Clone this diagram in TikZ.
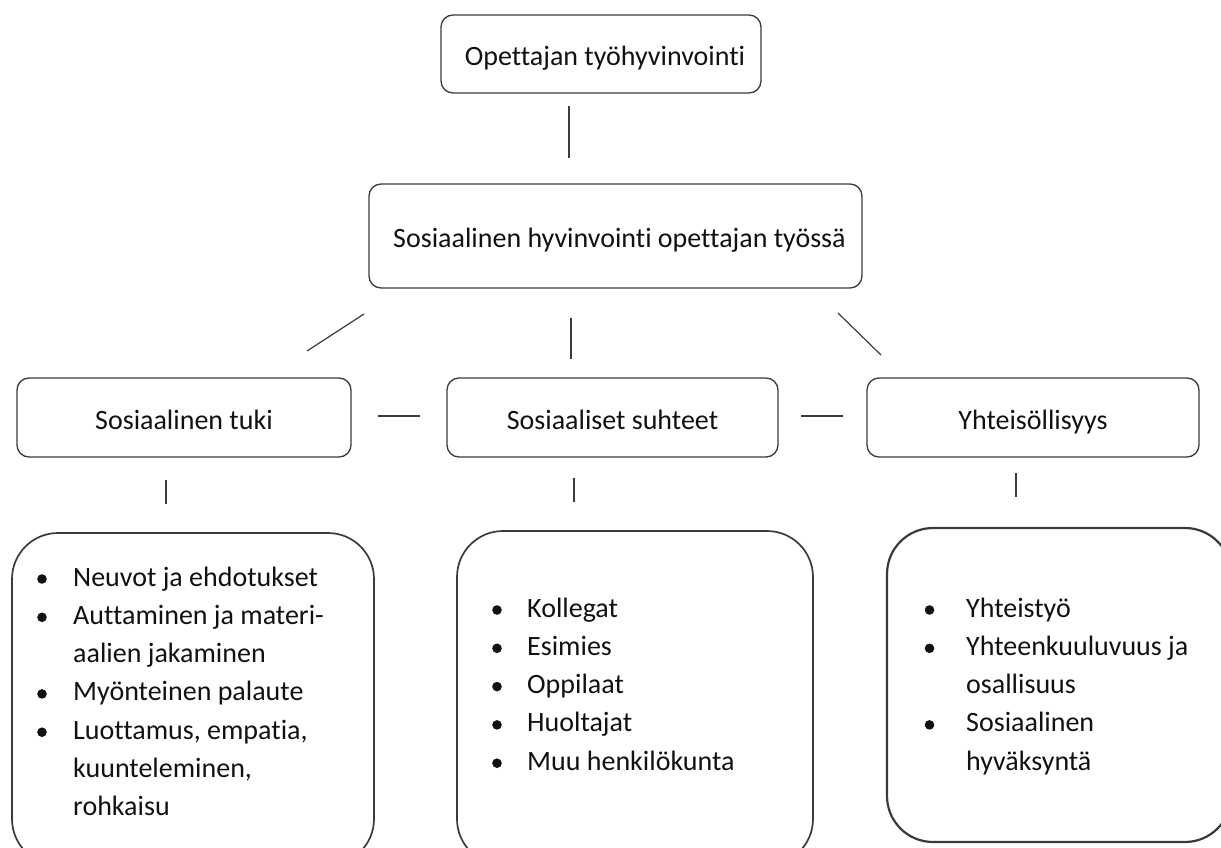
\documentclass[tikz,border=0pt]{standalone}
\usepackage{fontspec}
\setmainfont[Ligatures={NoCommon}]{Carlito}
\definecolor{linec}{HTML}{3A3A3A}
\definecolor{textc}{HTML}{111111}
\newcommand{\mainfnt}{\fontsize{28}{38.3}\selectfont}
\begin{document}
\begin{tikzpicture}[x=1pt,y=-1pt,
  box/.style={draw=linec, line width=1.3pt, rounded corners=12pt, inner sep=0pt,
    text height=25pt, text depth=2pt, font=\mainfnt, text=textc},
  listbox/.style={draw=linec, line width=1.7pt, rounded corners=46pt, inner sep=0pt},
  conn/.style={draw=linec, line width=1.2pt},
  listtext/.style={anchor=base west, inner sep=0pt, font=\mainfnt, text=textc},
  blt/.style={fill=textc}]
\useasboundingbox (0,0) rectangle (1221,848);
\clip (0,0) rectangle (1221,848);

% upper boxes
\node[box, minimum width=320pt, minimum height=78pt] (b0) at (601,54) {\hspace*{8pt}Opettajan työhyvinvointi};
\node[box, minimum width=493pt, minimum height=104pt] (b1) at (615.5,236) {\hspace*{8pt}Sosiaalinen hyvinvointi opettajan työssä};

% row boxes
\node[box, minimum width=334pt, minimum height=79pt] (r1) at (184,417.5) {Sosiaalinen tuki};
\node[box, minimum width=331pt, minimum height=79pt] (r2) at (612.5,417.5) {Sosiaaliset suhteet};
\node[box, minimum width=332pt, minimum height=79pt] (r3) at (1033,417.5) {Yhteisöllisyys};

% bottom boxes
\node[listbox, minimum width=362pt, minimum height=332pt] (l1) at (193,699) {};
\node[listbox, minimum width=356pt, minimum height=334pt] (l2) at (635,698) {};
\node[listbox, line width=2.2pt, minimum width=344pt, minimum height=314pt] (l3) at (1059,685) {};

% list texts
\node[listtext] (t1) at (73,586) {\begin{tabular}[t]{@{}l@{}}Neuvot ja ehdotukset\\ Auttaminen ja materi-\\ aalien jakaminen\\ Myönteinen palaute\\ Luottamus, empatia,\\ kuunteleminen,\\ rohkaisu\end{tabular}};
\node[listtext] (t2) at (527,617) {\begin{tabular}[t]{@{}l@{}}Kollegat\\ Esimies\\ Oppilaat\\ Huoltajat\\ Muu henkilökunta\end{tabular}};
\node[listtext] (t3) at (966,617) {\begin{tabular}[t]{@{}l@{}}Yhteistyö\\ Yhteenkuuluvuus ja\\ osallisuus\\ Sosiaalinen\\ hyväksyntä\end{tabular}};

% bullets
\foreach \y in {579,617.3,693.9,732.2} \fill[blt] (42,\y) circle (4.8pt);
\foreach \y in {610,648.3,686.6,724.9,763.2} \fill[blt] (497,\y) circle (4.8pt);
\foreach \y in {610,648.3,724.9} \fill[blt] (929.5,\y) circle (4.8pt);

% connector end points
\coordinate (c0a) at (569,106);   \coordinate (c0b) at (569,158);
\coordinate (c1a) at (364,314);   \coordinate (c1b) at (307,351);
\coordinate (c2a) at (571,318);   \coordinate (c2b) at (571,359);
\coordinate (c3a) at (838,313);   \coordinate (c3b) at (881,355);
\coordinate (d1a) at (378,416);   \coordinate (d1b) at (420,416);
\coordinate (d2a) at (801,416);   \coordinate (d2b) at (843,416);
\coordinate (v1a) at (166,480);   \coordinate (v1b) at (166,504);
\coordinate (v2a) at (574,478);   \coordinate (v2b) at (574,502);
\coordinate (v3a) at (1016,473);  \coordinate (v3b) at (1016,497);

\draw[conn] (c0a) -- (c0b);
\draw[conn] (c1a) -- (c1b);
\draw[conn] (c2a) -- (c2b);
\draw[conn] (c3a) -- (c3b);
\draw[conn] (d1a) -- (d1b);
\draw[conn] (d2a) -- (d2b);
\draw[conn] (v1a) -- (v1b);
\draw[conn] (v2a) -- (v2b);
\draw[conn] (v3a) -- (v3b);
\end{tikzpicture}
\end{document}
